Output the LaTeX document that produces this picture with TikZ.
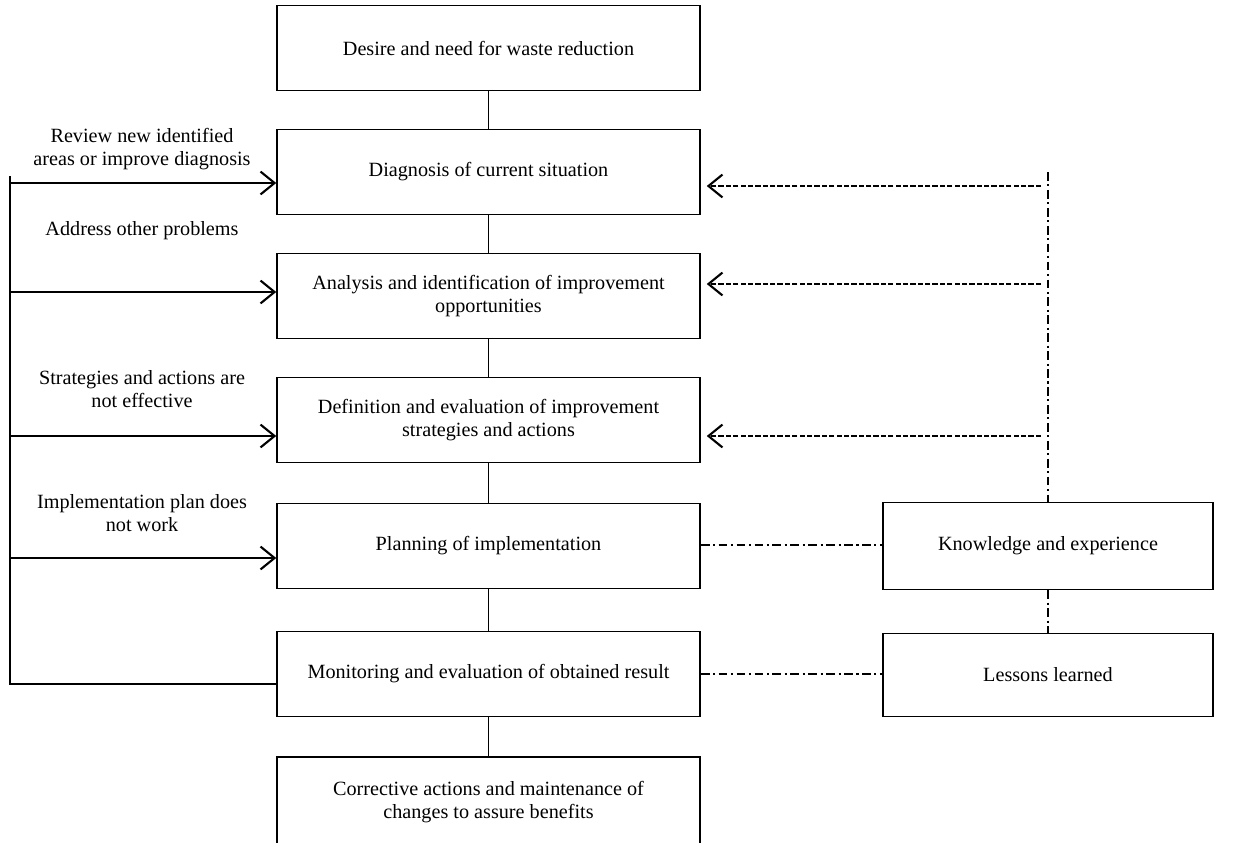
\documentclass[tikz,border=0pt]{standalone}
\usepackage{fontspec}
\setmainfont{Liberation Serif}
\usepackage{tikz}
\usetikzlibrary{arrows.meta}

\begin{document}
\begin{tikzpicture}[x=0.02cm, y=-0.02cm, font=\fontsize{11.5}{13.2}\selectfont]
\tikzstyle{block}=[draw, line width=0.9pt, minimum width=8.46cm, minimum height=1.7cm, inner sep=0pt, align=center]
\tikzstyle{side}=[block, minimum width=6.6cm, minimum height=1.74cm]
\tikzstyle{loop}=[line width=1.2pt, -{Straight Barb[length=8pt, width=13pt, line width=1.2pt]}]
\tikzstyle{feed}=[line width=1pt, dash pattern=on 3pt off 1.2pt, -{Straight Barb[length=8pt, width=13pt, line width=1.2pt]}]
\tikzstyle{link}=[line width=1pt, dash pattern=on 5pt off 2pt on 1.2pt off 2pt]
\useasboundingbox (0,0) rectangle (1241,842);

% main steps
\node[block] (b1) at (488.5,48) {Desire and need for waste reduction};
\node[block] (b2) at (488.5,172) {Diagnosis of current situation};
\node[block] (b3) at (488.5,296) {Analysis and identification of improvement\\opportunities};
\node[block] (b4) at (488.5,420) {Definition and evaluation of improvement\\strategies and actions};
\node[block] (b5) at (488.5,546) {Planning of implementation};
\node[block] (b6) at (488.5,674) {Monitoring and evaluation of obtained result};
\node[block, minimum height=1.8cm] (b7) at (488.5,802) {Corrective actions and maintenance of\\changes to assure benefits};
\draw[line width=0.9pt] (b1)--(b2)--(b3)--(b4)--(b5)--(b6)--(b7);

% knowledge side
\node[side] (ke) at (1048,546) {Knowledge and experience};
\node[side, minimum height=1.66cm] (ll) at (1048,675) {Lessons learned};
\draw[link] (b5.east |- 0,545) -- (ke.west |- 0,545);
\draw[link] (b6.east |- 0,674) -- (ll.west |- 0,674);
\draw[link] (ke) -- (ll);
\coordinate (top) at (1048,172);
\draw[link] (top) -- (ke.north);
\foreach \n/\y in {b2/186, b3/284, b4/436}
  \draw[feed] (1041,\y) coordinate (r\n) -- ([xshift=0.12cm]\n.east |- r\n);

% feedback loop on the left
\coordinate (fb) at (10,176);
\coordinate (fe) at (10,684);
\draw[line width=1.2pt] (fb) -- (fe) -- (b6.west |- fe);
\foreach \n/\y in {b2/183, b3/292, b4/436, b5/558}
  \draw[loop] (10,\y) coordinate (l\n) -- (\n.west |- l\n);

\node[align=center] (t1) at (142,149) {Review new identified\\areas or improve diagnosis};
\node (t2) at (142,231) {Address other problems};
\node[align=center] (t3) at (142,389) {Strategies and actions are\\not effective};
\node[align=center] (t4) at (142,513) {Implementation plan does\\not work};
\end{tikzpicture}
\end{document}
